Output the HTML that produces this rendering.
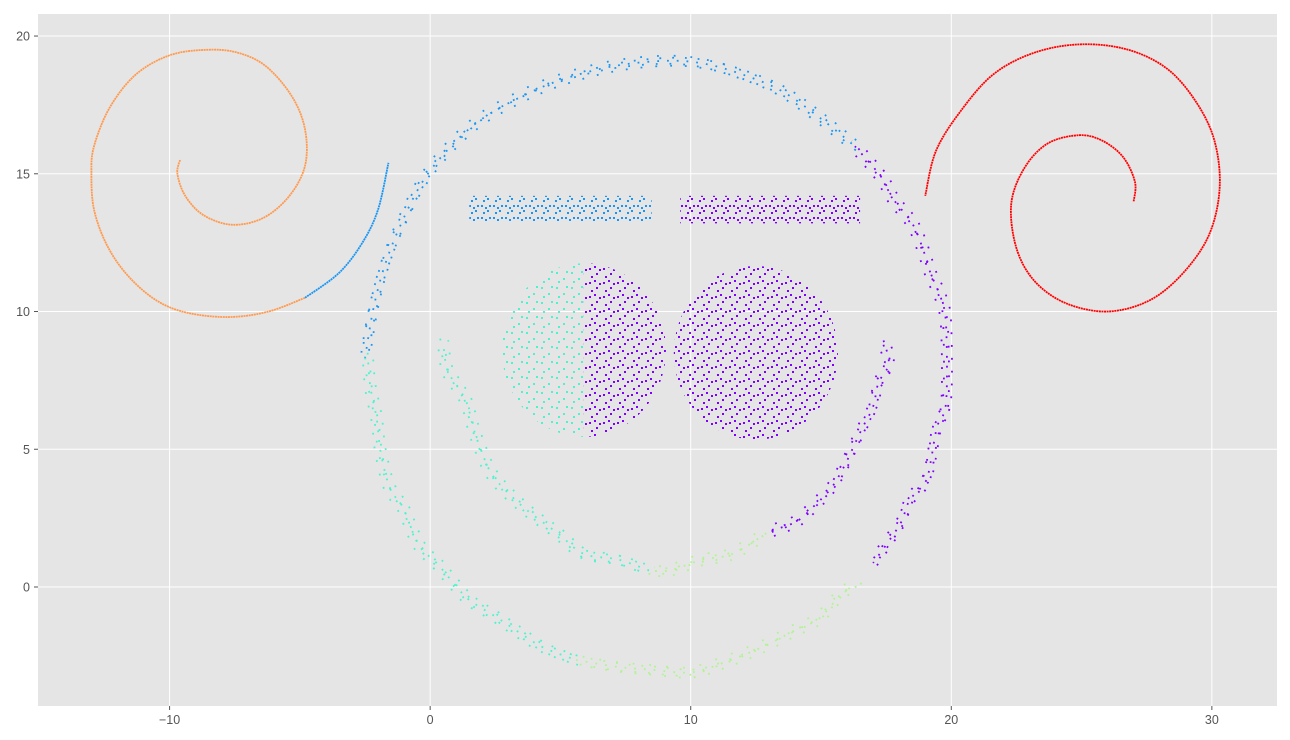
<!DOCTYPE html>
<html><head><meta charset="utf-8">
<style>
html,body{margin:0;padding:0;background:#fff;}
svg{display:block;font-family:"Liberation Sans",sans-serif;}
</style></head>
<body>
<svg id="chart" width="1290" height="740" viewBox="0 0 1290 740" xmlns="http://www.w3.org/2000/svg">
<defs>
<pattern id="dotsP" patternUnits="userSpaceOnUse" width="14" height="14">
<rect x="1" y="2" width="2" height="2" fill="#8000ff"/><rect x="8" y="7" width="2" height="2" fill="#8000ff"/><rect x="6" y="0" width="2" height="2" fill="#8000ff"/><rect x="3" y="10" width="2" height="2" fill="#8000ff"/><rect x="11" y="3" width="2" height="2" fill="#8000ff"/>
</pattern>
<pattern id="dotsB" patternUnits="userSpaceOnUse" width="12" height="12">
<rect x="1" y="1" width="2" height="2" fill="#1996f3"/><rect x="7" y="6" width="2" height="2" fill="#1996f3"/><rect x="9" y="1" width="2" height="2" fill="#1996f3"/><rect x="3" y="8" width="2" height="2" fill="#1996f3"/><rect x="5" y="3" width="2" height="2" fill="#1996f3"/>
</pattern>
<pattern id="dotsP2" patternUnits="userSpaceOnUse" width="12" height="12">
<rect x="1" y="1" width="2" height="2" fill="#8000ff"/><rect x="7" y="6" width="2" height="2" fill="#8000ff"/><rect x="9" y="1" width="2" height="2" fill="#8000ff"/><rect x="3" y="8" width="2" height="2" fill="#8000ff"/><rect x="5" y="3" width="2" height="2" fill="#8000ff"/>
</pattern>
<pattern id="dotsT" patternUnits="userSpaceOnUse" width="15" height="15">
<rect x="1" y="2" width="2" height="2" fill="#4df3ce"/><rect x="8" y="8" width="2" height="2" fill="#4df3ce"/><rect x="11" y="1" width="2" height="2" fill="#4df3ce"/><rect x="3" y="11" width="2" height="2" fill="#4df3ce"/>
</pattern>
</defs>
<rect x="38" y="14" width="1239" height="692" fill="#e5e5e5"/>
<g id="grid"></g>
<g id="marks"></g>
<g id="axes"></g>
</svg>
<script>
// axis domain
const xDomain = [-15.05, 32.5];
const yDomain = [-4.32, 20.8];
const xTicks = [-10, 0, 10, 20, 30];
const yTicks = [0, 5, 10, 15, 20];
// spirals (smooth lines)
const orangeSpiralX = [-9.6,-9.7,-9.4,-8.7,-7.6,-6.4,-5.4,-4.8,-4.8,-5.3,-6.3,-7.4,-8.6,-10,-11.3,-12.3,-12.9,-13,-12.9,-12.4,-11.6,-10.5,-9.3,-7.7,-6.2,-4.8];
const orangeSpiralY = [15.5,15,14.2,13.5,13.15,13.4,14.2,15.3,16.6,17.8,18.9,19.4,19.5,19.3,18.6,17.4,16,15,13.7,12.4,11.3,10.4,9.95,9.8,10,10.5];
const blueTailX = [-4.8,-3.5,-2.6,-2,-1.6];
const blueTailY = [10.5,11.4,12.5,13.7,15.4];
const redSpiralX = [27,27.05,26.6,25.8,24.9,23.7,22.8,22.3,22.5,23.2,24.4,26,27.6,28.9,29.9,30.3,30.1,29.4,28.3,26.8,25,23.2,21.6,20.3,19.4,19];
const redSpiralY = [14,14.7,15.6,16.2,16.4,16.1,15.2,13.9,12.3,11.1,10.3,10,10.4,11.4,12.8,14.5,16.2,17.6,18.8,19.5,19.7,19.4,18.6,17.2,15.8,14.2];
// scattered arcs
const blueArcX = [-2.5,-2.2,-1.8,-1.2,-0.3,0.8,2,3.5,5,7,9,10.5,12,13.5,15,16.3];
const blueArcY = [8.3,10,11.5,13,14.7,16,17,17.8,18.4,18.9,19.1,19,18.6,18,17,16];
const purpleOuterX = [16.3,17.3,17.8,18.5,18.9,19.2,19.6,19.8,19.8,19.45,19.2,19,18.4,18.1,17.7,17];
const purpleOuterY = [16,14.9,14.05,13.2,12.3,11.4,10.5,9.5,6.7,5.8,4.5,3.8,3.15,2.4,1.8,0.87];
const purpleInnerX = [17.4,17.6,17.2,17,16.6,16.3,15.9,15.4,14.8,14.1,13.3,12.9];
const purpleInnerY = [8.95,8.1,7.4,6.55,5.8,5.2,4.4,3.6,3,2.4,2.1,1.95];
const greenInnerX = [12.9,11.6,10.4,9.2,8.4];
const greenInnerY = [1.95,1.2,0.98,0.6,0.6];
const tealInnerX = [8.4,7.2,5.9,4.9,3.7,2.8,2.3,1.9,1.65,1.4,1.03,0.65,0.5];
const tealInnerY = [0.6,1.0,1.2,1.95,2.8,3.6,4.2,5.1,5.8,6.7,7.3,7.9,8.85];
const tealOuterX = [-2.4,-2.3,-2.05,-1.9,-1.55,-1.05,-0.65,-0.3,0.25,0.9,1.5,2.55,3.45,4.35,5.6];
const tealOuterY = [8.5,7.3,6.1,4.9,3.6,2.9,1.95,1.35,0.87,0.14,-0.47,-1.1,-1.67,-2.2,-2.65];
const greenOuterX = [5.6,7.2,8.45,10,11.25,12.7,13.95,14.85,15.35,15.85,16.4];
const greenOuterY = [-2.65,-2.9,-3,-3.1,-2.75,-2.2,-1.6,-1.2,-0.72,-0.18,0.03];
// bands [x0,x1,y0,y1]
const blueBand = [1.5,8.5,13.25,14.2];
const purpleBand = [9.6,16.5,13.2,14.2];
// discs [cx,cy,r]
const leftDisc = [5.9,8.6,3.15];
const rightDisc = [12.5,8.5,3.15];

const L=38,R=1277,T=14,B=706;
const sx = v => L + (v - xDomain[0]) / (xDomain[1] - xDomain[0]) * (R - L);
const sy = v => B - (v - yDomain[0]) / (yDomain[1] - yDomain[0]) * (B - T);
const NS = 'http://www.w3.org/2000/svg';
const grid = document.getElementById('grid');
const marks = document.getElementById('marks');
const axes = document.getElementById('axes');
function mk(tag, attrs, parent){const e=document.createElementNS(NS,tag);for(const k in attrs)e.setAttribute(k,attrs[k]);parent.appendChild(e);return e;}

xTicks.forEach(t=>{
  const x=sx(t);
  const g=mk('line',{x1:x,x2:x,y1:T,y2:B,stroke:'#fff','stroke-width':1},grid);
  
  
  const tk=mk('line',{x1:x,x2:x,y1:B,y2:B+4,stroke:'#555','stroke-width':1},axes);
  
  
  const lb=mk('text',{x:x,y:B+18,'text-anchor':'middle','font-size':12.5,fill:'#555'},axes);
  lb.textContent = t<0 ? '\u2212'+Math.abs(t) : String(t);
  
  
});
yTicks.forEach(t=>{
  const y=sy(t);
  const g=mk('line',{x1:L,x2:R,y1:y,y2:y,stroke:'#fff','stroke-width':1},grid);
  
  
  const tk=mk('line',{x1:L-4,x2:L,y1:y,y2:y,stroke:'#555','stroke-width':1},axes);
  
  
  const lb=mk('text',{x:L-8,y:y+4.5,'text-anchor':'end','font-size':12.5,fill:'#555'},axes);
  lb.textContent = String(t);
  
  
});

function smoothPath(xs, ys, dx, dy){
  const p = xs.map((v,i)=>[sx(v)+(dx||0), sy(ys[i])+(dy||0)]);
  let d = 'M'+p[0][0]+','+p[0][1];
  for(let i=0;i<p.length-1;i++){
    const p0=p[i-1]||p[i], p1=p[i], p2=p[i+1], p3=p[i+2]||p2;
    const c1=[p1[0]+(p2[0]-p0[0])/6, p1[1]+(p2[1]-p0[1])/6];
    const c2=[p2[0]-(p3[0]-p1[0])/6, p2[1]-(p3[1]-p1[1])/6];
    d+=' C'+c1[0]+','+c1[1]+' '+c2[0]+','+c2[1]+' '+p2[0]+','+p2[1];
  }
  return d;
}
function spiral(xs, ys, color, name){
  const e=mk('path',{d:smoothPath(xs,ys),fill:'none',stroke:color,'stroke-width':1.8,'stroke-dasharray':'2 0.6'},marks);
  
  
}
function arc(xs, ys, color, name){
  const offs=[[0,0,'1.8 8',0],[5,-3,'1.8 11',3],[-5,3,'1.8 12',5],[2,5,'1.8 13',2],[-3,-5,'1.8 15',7]];
  offs.forEach(o=>{
    const e=mk('path',{d:smoothPath(xs,ys,o[0],o[1]),fill:'none',stroke:color,'stroke-width':1.8,'stroke-dasharray':o[2],'stroke-dashoffset':o[3]},marks);
    
    
  });
}
function band(b, fill, name){
  const e=mk('rect',{x:sx(b[0]),y:sy(b[3]),width:sx(b[1])-sx(b[0]),height:sy(b[2])-sy(b[3]),fill:fill},marks);
  
  
}
spiral(orangeSpiralX, orangeSpiralY, '#ff9a4f', 'orange-spiral');
spiral(blueTailX, blueTailY, '#1996f3', 'blue-spiral-tail');
spiral(redSpiralX, redSpiralY, '#ff0000', 'red-spiral');
arc(blueArcX, blueArcY, '#1996f3', 'blue-outer-arc');
arc(purpleOuterX, purpleOuterY, '#8000ff', 'purple-outer-arc');
arc(purpleInnerX, purpleInnerY, '#8000ff', 'purple-inner-arc');
arc(greenInnerX, greenInnerY, '#b2f396', 'green-inner-arc');
arc(tealInnerX, tealInnerY, '#4df3ce', 'teal-inner-arc');
arc(tealOuterX, tealOuterY, '#4df3ce', 'teal-outer-arc');
arc(greenOuterX, greenOuterY, '#b2f396', 'green-outer-arc');
band(blueBand, 'url(#dotsB)', 'blue-band');
band(purpleBand, 'url(#dotsP2)', 'purple-band');
// discs
const lcx=sx(leftDisc[0]), lcy=sy(leftDisc[1]), lrx=sx(leftDisc[0]+leftDisc[2])-lcx, lry=sy(leftDisc[1]-leftDisc[2])-lcy;
const cp=mk('clipPath',{id:'leftHalf'},document.querySelector('defs'));
mk('rect',{x:0,y:0,width:lcx,height:740},cp);
const cp2=mk('clipPath',{id:'rightHalf'},document.querySelector('defs'));
mk('rect',{x:lcx,y:0,width:800,height:740},cp2);
const d1=mk('ellipse',{cx:lcx,cy:lcy,rx:lrx,ry:lry,fill:'url(#dotsT)','clip-path':'url(#leftHalf)'},marks);


const d2=mk('ellipse',{cx:lcx,cy:lcy,rx:lrx,ry:lry,fill:'url(#dotsP)','clip-path':'url(#rightHalf)'},marks);


const rcx=sx(rightDisc[0]), rcy=sy(rightDisc[1]);
const d3=mk('ellipse',{cx:rcx,cy:rcy,rx:sx(rightDisc[0]+rightDisc[2])-rcx,ry:sy(rightDisc[1]-rightDisc[2])-rcy,fill:'url(#dotsP)'},marks);


</script>
</body></html>
